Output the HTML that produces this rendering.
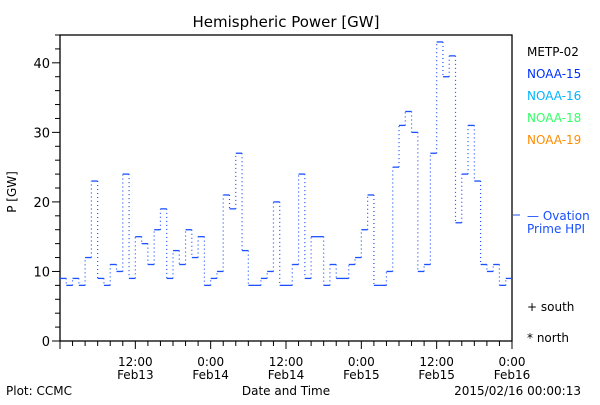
<!DOCTYPE html>
<html><head><meta charset="utf-8"><style>
body{margin:0;background:#fff;width:600px;height:400px;overflow:hidden}
svg{font-family:"DejaVu Sans","Liberation Sans",sans-serif}
</style></head><body>
<svg id="chart" width="600" height="400">
<rect x="0" y="0" width="600" height="400" fill="#fff"/>
<text x="286" y="27" font-size="15" text-anchor="middle">Hemispheric Power [GW]</text>
<g id="axes"></g>
<g id="series"></g>
<text x="16" y="192" font-size="12" text-anchor="middle" transform="rotate(-90 16 192)">P [GW]</text>
<text x="286" y="395" font-size="12" text-anchor="middle">Date and Time</text>
<text x="6" y="395" font-size="12">Plot: CCMC</text>
<text x="581" y="395" font-size="12" text-anchor="end">2015/02/16 00:00:13</text>
<g font-size="12">
<text x="527" y="56" fill="#000">METP-02</text>
<text x="527" y="78" fill="#0030ff">NOAA-15</text>
<text x="527" y="100" fill="#00b4ff">NOAA-16</text>
<text x="527" y="122" fill="#33ff66">NOAA-18</text>
<text x="527" y="144" fill="#ff8c00">NOAA-19</text>
<line x1="513" y1="215" x2="520" y2="215" stroke="#1a50ff"/>
<text x="527" y="220" fill="#1a50ff">— Ovation</text>
<text x="527" y="233" fill="#1a50ff">Prime HPI</text>
<text x="527" y="311" fill="#000">+ south</text>
<text x="527" y="342" fill="#000">* north</text>
</g>
</svg>
<script>
const values = [9,8,9,8,12,23,9,8,11,10,24,9,15,14,11,16,19,9,13,11,16,12,15,8,9,10,21,19,27,13,8,8,9,10,20,8,8,11,24,9,15,15,8,11,9,9,11,12,16,21,8,8,10,25,31,33,30,10,11,27,43,38,41,17,24,31,23,11,10,11,8,9];
const yTicks = [0,10,20,30,40];
const xLabels = [["12:00","Feb13"],["0:00","Feb14"],["12:00","Feb14"],["0:00","Feb15"],["12:00","Feb15"],["0:00","Feb16"]];
const xLabelHours = [12,24,36,48,60,72];
const L=60,R=512,T=35,B=341,H0=0,H1=72,Y0=0,Y1=44;
const X=h=>L+(h-H0)/(H1-H0)*(R-L);
const Y=v=>B-(v-Y0)/(Y1-Y0)*(B-T);
const NS="http://www.w3.org/2000/svg";
function mk(tag,attrs,parent,text){const e=document.createElementNS(NS,tag);for(const k in attrs)e.setAttribute(k,attrs[k]);if(text!==undefined)e.textContent=text;parent.appendChild(e);return e;}
const ax=document.getElementById('axes');
const frame=mk('rect',{x:L,y:T,width:R-L,height:B-T,fill:'none',stroke:'#000','stroke-width':1.3},ax);


for(let v=0;v<=44;v+=2){const major=v%10===0;const t=mk('line',{x1:L-(major?8:5),x2:L,y1:Y(v),y2:Y(v),stroke:'#000'},ax);

}
yTicks.forEach(v=>{const t=mk('text',{x:L-10,y:Y(v)+5,'font-size':13,'text-anchor':'end'},ax,String(v));

});
for(let h=0;h<=72;h+=2){const major=h%12===0;const t=mk('line',{x1:X(h),x2:X(h),y1:B,y2:B+(major?8:5),stroke:'#000'},ax);

}
xLabels.forEach((lb,i)=>{const g=mk('text',{x:X(xLabelHours[i]),y:B+25,'font-size':12,'text-anchor':'middle'},ax,lb[0]);


const d=mk('text',{x:X(xLabelHours[i]),y:B+38,'font-size':12,'text-anchor':'middle'},ax,lb[1]);

});
const s=document.getElementById('series');
values.forEach((v,i)=>{const l=mk('line',{x1:X(i),x2:X(i+1),y1:Y(v),y2:Y(v),stroke:'#1a50ff','stroke-width':1.3},s);


if(i>0){const c=mk('line',{x1:X(i),x2:X(i),y1:Y(values[i-1]),y2:Y(v),stroke:'#1a50ff','stroke-width':1.2,'stroke-dasharray':'1 3'},s);

}});
</script>
</body></html>
